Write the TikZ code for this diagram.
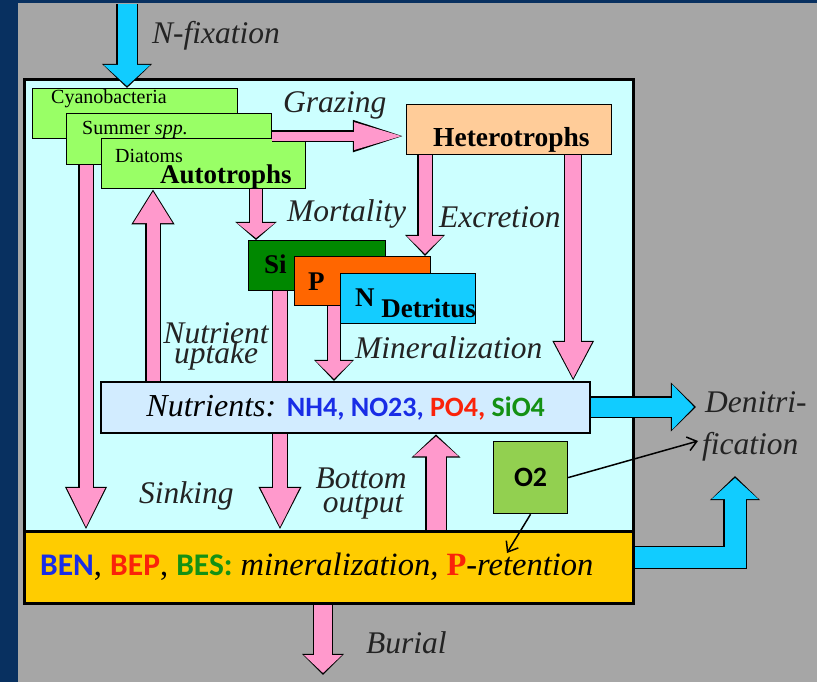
\documentclass[tikz,border=0pt]{standalone}
\usepackage{fontspec}
\setmainfont{Liberation Serif}
\setsansfont{Carlito}
\usetikzlibrary{arrows.meta}

\definecolor{navy}{RGB}{8,48,96}
\definecolor{panel}{RGB}{166,166,166}
\definecolor{water}{RGB}{204,255,255}
\definecolor{sediment}{RGB}{255,204,0}
\definecolor{algae}{RGB}{153,255,102}
\definecolor{hetero}{RGB}{255,204,153}
\definecolor{silica}{RGB}{0,136,0}
\definecolor{phos}{RGB}{255,102,0}
\definecolor{nitro}{RGB}{20,204,255}
\definecolor{nutri}{RGB}{210,236,255}
\definecolor{oxy}{RGB}{146,208,80}
\definecolor{pinkflow}{RGB}{255,153,204}
\definecolor{cyanflow}{RGB}{17,204,255}
\definecolor{lblgray}{RGB}{35,35,35}
\definecolor{nblue}{RGB}{25,45,230}
\definecolor{pred}{RGB}{250,35,10}
\definecolor{sgreen}{RGB}{20,145,20}

\begin{document}
\begin{tikzpicture}[
        x = 1pt, y = -1pt,
        box/.style = {draw, line width = 1.2pt, inner sep = 0pt, anchor = north west},
        txt/.style = {inner sep = 0pt, anchor = base west},
        lbl/.style = {txt, text = lblgray, font = \fontsize{31.5}{31.5}\selectfont\itshape},
        thinarrow/.style = {draw = black, line width = 1.5pt, -{Straight Barb[length = 9pt, width = 14pt]}},
        flow/.code args = {#1/#2/#3/#4}{%
            \pgfmathsetmacro\flowsw{#1+2.4}%
            \pgfmathsetmacro\flowhw{#2+3.6}%
            \pgfmathsetmacro\flowhl{#3+3.2}%
            \tikzset{draw = #4, line width = #1pt, line join = miter,
                -{Triangle[length = #3pt, width = #2pt]}, shorten >= 2pt,
                preaction = {draw = black, line width = \flowsw pt,
                    -{Triangle[length = \flowhl pt, width = \flowhw pt]}, shorten >= 0pt}}}
    ]

    \useasboundingbox (0,0) rectangle (817,682);
    \fill[navy] (0,0) rectangle (817,682);
    \fill[panel] (18,3) rectangle (817,682);

    % water column and sediment
    \node[box, line width = 3pt, fill = water, minimum width = 609pt, minimum height = 452pt] (wat) at (23,78) {};
    \node[box, line width = 3pt, fill = sediment, minimum width = 609pt, minimum height = 72pt] (sed) at (23,530) {};

    % autotrophs
    \node[box, fill = algae, minimum width = 205pt, minimum height = 50pt] (cya) at (32,88) {};
    \node[txt, font = \fontsize{20}{20}\selectfont] at ([shift={(19,16)}]cya.north west) {Cyanobacteria};
    \node[box, fill = algae, minimum width = 205pt, minimum height = 51pt] (sum) at (66,113) {};
    \node[txt, font = \fontsize{20}{20}\selectfont] at ([shift={(16,22)}]sum.north west) {Summer \textit{spp.}};
    \node[box, fill = algae, minimum width = 204pt, minimum height = 50pt] (dia) at (101,138) {};
    \node[txt, font = \fontsize{20}{20}\selectfont] at ([shift={(14,25)}]dia.north west) {Diatoms};
    \node[txt, font = \fontsize{27}{27}\selectfont\bfseries] at ([shift={(59,45)}]dia.north west) {Autotrophs};

    \node[box, fill = hetero, minimum width = 205pt, minimum height = 50pt] (het) at (406,104) {};
    \node[txt, font = \fontsize{27.5}{27.5}\selectfont\bfseries] at ([shift={(27,43)}]het.north west) {Heterotrophs};

    % detritus
    \node[box, fill = silica, minimum width = 137pt, minimum height = 50pt] (si) at (248,240) {};
    \node[txt, font = \fontsize{27}{27}\selectfont\bfseries] at ([shift={(16,33)}]si.north west) {Si};
    \node[box, fill = phos, minimum width = 136pt, minimum height = 49pt] (pp) at (294,256) {};
    \node[txt, font = \fontsize{27}{27}\selectfont\bfseries] at ([shift={(14,34)}]pp.north west) {P};
    \node[box, fill = nitro, minimum width = 135pt, minimum height = 50pt] (nd) at (340,273) {};
    \node[txt, font = \fontsize{27}{27}\selectfont\bfseries] at ([shift={(15,33)}]nd.north west) {N \raisebox{-11pt}{Detritus}};

    % sinking of detritus, behind the nutrients
    \coordinate (ss) at ([xshift = 32pt]si.south west);
    \draw[flow = 14/36/40/pinkflow] (ss) -- (ss |- sed.north);

    \node[box, line width = 2.4pt, fill = nutri, minimum width = 489pt, minimum height = 51pt] (nut) at (100,381)
        {\fontsize{32}{32}\selectfont\itshape Nutrients: \upshape\sffamily\bfseries\fontsize{28}{28}\selectfont
         \color{nblue}NH4, NO23, \color{pred}PO4, \color{sgreen}SiO4};
    \node[box, fill = oxy, minimum width = 74pt, minimum height = 72pt, font = \sffamily\bfseries\fontsize{28}{28}\selectfont] (o2) at (493,441) {O2};

    \node[txt, font = \fontsize{32.5}{32.5}\selectfont] at ([shift={(17,45)}]sed.north west)
        {{\sffamily\bfseries\fontsize{31.5}{31.5}\selectfont\color{nblue}BEN}, {\sffamily\bfseries\fontsize{31.5}{31.5}\selectfont\color{pred}BEP}, {\sffamily\bfseries\fontsize{31.5}{31.5}\selectfont\color{sgreen}BES:} \textit{mineralization,} \textbf{\color{pred}P}\textit{-retention}};

    % pink fluxes
    \coordinate (gz) at ([yshift = 3pt]sum.east);
    \draw[flow = 9/25/50/pinkflow] (gz) -- (gz -| het.west);
    \coordinate (sk) at ([xshift = 20pt]sum.south west);
    \draw[flow = 13/35/40/pinkflow] (sk) -- (sk |- sed.north);
    \coordinate (up) at ([xshift = 53pt]nut.north west);
    \draw[flow = 13/37/32/pinkflow] (up) -- (up |- dia.south);
    \coordinate (mo) at ([xshift = 8pt]si.north west);
    \draw[flow = 12/37/15/pinkflow] (mo |- dia.south) -- (mo);
    \coordinate (ex) at ([xshift = 19pt]het.south west);
    \draw[flow = 13/35/18/pinkflow] (ex) -- (ex |- pp.north);
    \coordinate (hn) at ([xshift = -39pt]het.south east);
    \draw[flow = 16/35/37/pinkflow] (hn) -- (hn |- nut.north);
    \coordinate (mi) at ([xshift = 40pt]pp.south west);
    \draw[flow = 12/35/18/pinkflow] (mi) -- (mi |- nut.north);
    \coordinate (bo) at ([xshift = 413pt]sed.north west);
    \draw[flow = 19/44/20/pinkflow] (bo) -- (bo |- nut.south);
    \coordinate (bur) at (323,675);
    \draw[flow = 18/37/18/pinkflow] (bur |- sed.south) -- (bur);

    % cyan fluxes
    \coordinate (nfx) at (127,4);
    \draw[flow = 19/45/21/cyanflow] (nfx) -- (nfx |- cya.north);
    \coordinate (dn) at (696,407);
    \draw[flow = 19/44/22/cyanflow] (dn -| nut.east) -- (dn);
    \coordinate (eb) at ([yshift = 10pt]sed.east);
    \coordinate (el) at (735,476);
    \draw[flow = 21/45/21/cyanflow] (eb) -| (el);

    % oxygen control
    \coordinate (fic) at (698,441);
    \coordinate (ret) at (507,553);
    \draw[thinarrow] (o2.east) -- (fic);
    \draw[thinarrow] (o2.south) -- (ret);

    % labels
    \node[lbl] at (152,44) {N-fixation};
    \node[lbl] at (283,113) {Grazing};
    \node[lbl] at (287,222) {Mortality};
    \node[lbl] at (439,227) {Excretion};
    \node[lbl, anchor = base] at (216,343) {Nutrient};
    \node[lbl, anchor = base] at (216,363) {uptake};
    \node[lbl] at (355,358) {Mineralization};
    \node[lbl] at (139,503) {Sinking};
    \node[lbl, anchor = base] at (361,488) {Bottom};
    \node[lbl, anchor = base] at (363,512) {output};
    \node[lbl] at (705,412) {Denitri-};
    \node[lbl] at (702,454) {fication};
    \node[lbl] at (366,653) {Burial};

\end{tikzpicture}
\end{document}
